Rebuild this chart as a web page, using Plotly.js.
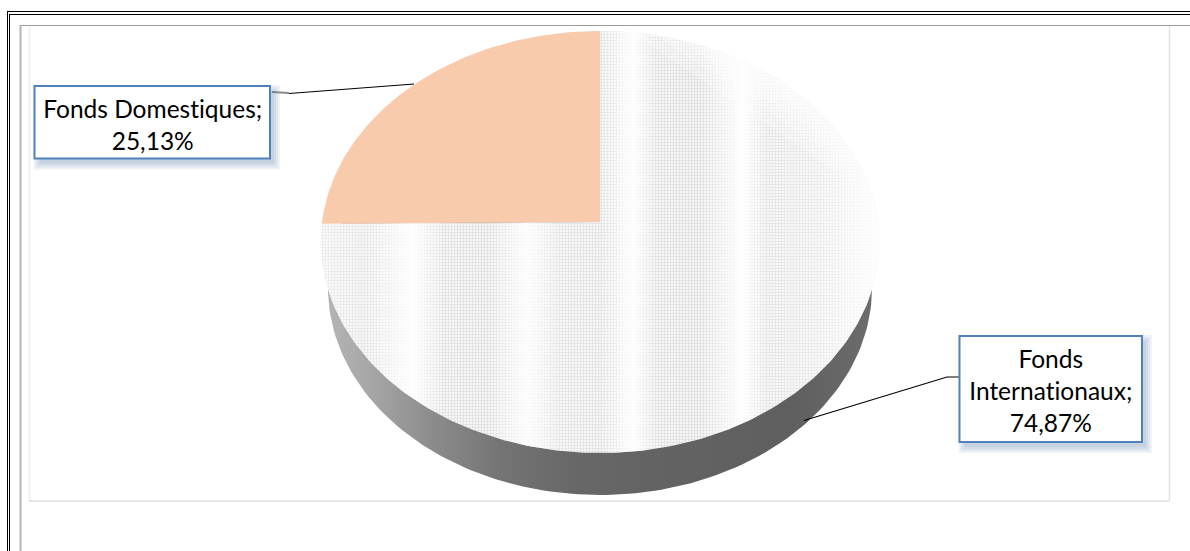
<!DOCTYPE html>
<html>
<head>
<meta charset="utf-8">
<script src="https://cdn.plot.ly/plotly-3.0.1.min.js"></script>
<style>
html,body{margin:0;padding:0;background:#fff}
#chart{width:1190px;height:551px}
#chart text{font-variant-ligatures:none !important;font-feature-settings:"liga" 0,"clig" 0 !important}
</style>
</head>
<body>
<div id="chart"></div>
<script>
// Répartition des fonds
const categories = ["Fonds Domestiques", "Fonds Internationaux"];
const shares = [25.13, 74.87];
const sliceColors = ["#F8CBAD", "#FFFFFF"];

// Tilted disc: a homography of the unit circle, so the slice apex sits above the ellipse centre.
const apex = {x: 600, y: 222};
const scale = {x: 278, y: 209.1};
const tilt = 0.0948;
// Lower rim of the side wall.
const rim = {x: 600, y: 288, rx: 272, ry: 207};

// Slices run anticlockwise from twelve o'clock.
function discPoint(turn) {
  const a = -2 * Math.PI * turn, u = Math.sin(a), v = Math.cos(a), w = 1 + tilt * v;
  return [apex.x + scale.x * u / w, apex.y - scale.y * v / w];
}
function arc(fromShare, toShare) {
  const n = Math.max(2, Math.round((toShare - fromShare) * 4));
  const xs = [], ys = [];
  for (let i = 0; i <= n; i++) {
    const p = discPoint((fromShare + (toShare - fromShare) * i / n) / 100);
    xs.push(p[0]); ys.push(p[1]);
  }
  return [xs, ys];
}
function sliceTrace(fromShare, toShare, extra) {
  const [xs, ys] = arc(fromShare, toShare);
  return Object.assign({
    x: [apex.x, ...xs, apex.x], y: [apex.y, ...ys, apex.y],
    mode: "lines", line: {width: 0}, fill: "toself", hoverinfo: "skip", showlegend: false
  }, extra);
}
function frLabel(v) { return v.toFixed(2).replace(".", ",") + "%"; }

// Side wall
const wallAngles = Array.from({length: 241}, (_, i) => i * 2 * Math.PI / 240);
const wall = {
  x: wallAngles.map(a => rim.x + rim.rx * Math.cos(a)),
  y: wallAngles.map(a => rim.y + rim.ry * Math.sin(a)),
  mode: "lines", line: {width: 0}, fill: "toself", hoverinfo: "skip", showlegend: false,
  fillgradient: {type: "horizontal", colorscale: [
    [0, "#b4b4b4"], [0.08, "#a6a6a6"], [0.2, "#8a8a8a"], [0.32, "#747474"],
    [0.45, "#686868"], [0.6, "#636363"], [0.85, "#5f5f5f"], [1, "#6c6c6c"]
  ]}
};

// Dotted top face of the larger slice, then the pale vertical bands over it.
const bigFace = sliceTrace(shares[0], 100, {
  fillpattern: {shape: ".", size: 3, solidity: 0.5, fgcolor: "#d6d6d6", bgcolor: sliceColors[1]}
});
const W = c => `rgba(255,255,255,${c})`;
const bigBands = sliceTrace(shares[0], 100, {
  fillgradient: {type: "horizontal", colorscale: [
    [0, W(0.5)], [0.08, W(0.3)], [0.165, W(0.95)], [0.22, W(0.2)], [0.3, W(0.15)],
    [0.37, W(0.9)], [0.43, W(0.25)], [0.5, W(0.2)], [0.56, W(0.95)], [0.6, W(0.2)],
    [0.68, W(0.1)], [0.755, W(0.95)], [0.8, W(0.25)], [0.88, W(0.4)], [1, W(0.95)]
  ]}
});
// The dots fade out towards the far right rim: nested segments of white.
const rimFade = [[77, 98], [78.5, 96.5], [80, 95], [81.5, 93.5], [83, 92], [84.5, 90.5]].map(([a, b]) => {
  const [xs, ys] = arc(a, b);
  return {x: [...xs, xs[0]], y: [...ys, ys[0]], mode: "lines", line: {width: 0}, fill: "toself",
    fillcolor: W(0.24), hoverinfo: "skip", showlegend: false};
});
const smallFace = sliceTrace(0, shares[0], {fillcolor: sliceColors[0]});

const leaderA = {x: [289, 414], y: [93.5, 84], mode: "lines", line: {color: "#000", width: 1.2}, hoverinfo: "skip", showlegend: false};
const leaderStub = {x: [272, 289], y: [92, 93], mode: "lines", line: {color: "#8a8a8a", width: 2}, hoverinfo: "skip", showlegend: false};
const leaderB = {x: [804, 947, 959], y: [420.5, 377, 377], mode: "lines", line: {color: "#000", width: 1.2}, hoverinfo: "skip", showlegend: false};

// Page frames
const rule = (x0, y0, x1, y1, color, width) => ({type: "line", x0, y0, x1, y1, line: {color, width}, layer: "below"});
const frames = [
  rule(7.5, 11.5, 1190, 11.5, "#000", 1), rule(9.5, 14.5, 1190, 14.5, "#000", 1),
  rule(7.5, 11, 7.5, 551, "#000", 1), rule(9.5, 14, 9.5, 551, "#000", 1),
  rule(20.5, 25.5, 1190, 25.5, "#9c9c9c", 1), rule(20.5, 25, 20.5, 551, "#b4b4b4", 2),
  rule(29.5, 26, 29.5, 501, "#ececec", 1.5), rule(29, 501, 1169, 501, "#dedede", 1.5),
  rule(1169.5, 26, 1169.5, 501, "#e2e2e2", 1.5)
];

// Callout boxes with their soft blue shadows
const boxes = [
  {x0: 34.5, y0: 86, x1: 270, y1: 158.5},
  {x0: 959.5, y0: 336, x1: 1142, y1: 442}
];
const boxShapes = [];
boxes.forEach(b => {
  [6, 4, 2, 0].forEach(g => boxShapes.push({
    type: "rect", x0: b.x0 + 5 - g, y0: b.y0 + 5 - g, x1: b.x1 + 4 + g, y1: b.y1 + 5 + g,
    line: {width: 0}, fillcolor: "rgba(79,110,170,0.09)", layer: "above"
  }));
  boxShapes.push({type: "rect", x0: b.x0, y0: b.y0, x1: b.x1, y1: b.y1,
    line: {color: "#4F81BD", width: 2}, fillcolor: "#fff", layer: "above"});
});

const labelFont = {family: "Lato, Carlito, sans-serif", size: 24.5, color: "#000"};
const annotations = [
  {x: (boxes[0].x0 + boxes[0].x1) / 2, y: (boxes[0].y0 + boxes[0].y1) / 2 + 2.5,
   text: `${categories[0]};<br>${frLabel(shares[0])}`},
  {x: (boxes[1].x0 + boxes[1].x1) / 2, y: (boxes[1].y0 + boxes[1].y1) / 2 + 1,
   text: `Fonds<br>Internationaux;<br>${frLabel(shares[1])}`}
].map(a => Object.assign(a, {showarrow: false, font: labelFont, align: "center", xanchor: "center", yanchor: "middle"}));

Plotly.newPlot("chart",
  [wall, bigFace, bigBands, ...rimFade, smallFace, leaderStub, leaderA, leaderB],
  {
    width: 1190, height: 551, margin: {l: 0, r: 0, t: 0, b: 0},
    paper_bgcolor: "#fff", plot_bgcolor: "#fff", showlegend: false,
    xaxis: {range: [0, 1190], visible: false, fixedrange: true},
    yaxis: {range: [551, 0], visible: false, fixedrange: true},
    shapes: [...frames, ...boxShapes], annotations
  },
  {displayModeBar: false, staticPlot: true}
);
</script>
</body>
</html>
